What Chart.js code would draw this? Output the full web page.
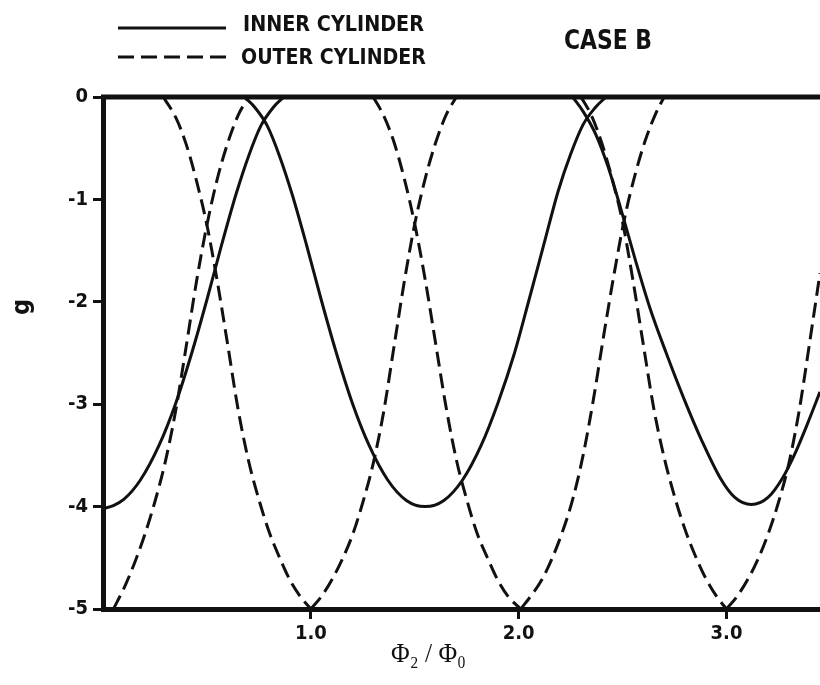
<!DOCTYPE html>
<html lang="en">
<head>
<meta charset="UTF-8">
<title>Case B</title>
<script src="https://cdn.jsdelivr.net/npm/chart.js"></script>
<style>
  html, body { margin: 0; padding: 0; background: #fff; }
  canvas { display: block; }
</style>
</head>
<body>
<canvas id="grafico" width="820" height="685"></canvas>
<script>
// eixos e textos
const xTicks = [1, 2, 3];
const xTickLabels = ['1.0', '2.0', '3.0'];
const yTicks = [0, -1, -2, -3, -4, -5];
const yTickLabels = ['0', '-1', '-2', '-3', '-4', '-5'];
const legendLabels = ['INNER CYLINDER', 'OUTER CYLINDER'];
const caseLabel = 'CASE B';
const xTitle = 'Φ₂ / Φ₀';
const yTitle = 'g';

// inner cylinder (linha cheia) - um ramo por mínimo
const innerAX = [0.00, 0.05, 0.10, 0.18, 0.27, 0.35, 0.43, 0.50, 0.57, 0.64, 0.70, 0.76, 0.82, 0.87];
const innerAY = [-4.02, -3.99, -3.93, -3.74, -3.40, -2.99, -2.48, -1.98, -1.45, -0.95, -0.58, -0.28, -0.10, 0];
const innerBX = [0.68, 0.73, 0.79, 0.85, 0.91, 0.98, 1.05, 1.12, 1.20, 1.28, 1.37, 1.46, 1.55,
                 1.64, 1.73, 1.82, 1.90, 1.98, 2.05, 2.12, 2.19, 2.25, 2.31, 2.37, 2.42];
const innerBY = [0, -0.10, -0.28, -0.58, -0.95, -1.45, -1.98, -2.48, -2.99, -3.40, -3.74, -3.94, -4.00,
                 -3.94, -3.74, -3.40, -2.99, -2.50, -1.98, -1.45, -0.92, -0.56, -0.27, -0.10, 0];
const innerCX = [2.26, 2.31, 2.37, 2.43, 2.49, 2.56, 2.63, 2.71, 2.80, 2.88, 2.97, 3.04, 3.12,
                 3.20, 3.27, 3.33, 3.39, 3.45];
const innerCY = [0, -0.14, -0.36, -0.68, -1.08, -1.58, -2.05, -2.50, -2.97, -3.35, -3.72, -3.91, -3.98,
                 -3.91, -3.72, -3.48, -3.19, -2.88];

// outer cylinder (tracejada) - cada lado do V separado
const outer0RX = [0.05, 0.10, 0.15, 0.20, 0.25, 0.30, 0.35, 0.40, 0.45, 0.50, 0.55, 0.60, 0.65, 0.70];
const outer0RY = [-5.0, -4.80, -4.56, -4.28, -3.95, -3.56, -3.06, -2.44, -1.80, -1.25, -0.80, -0.45, -0.18, 0];
const outer1LX = [0.29, 0.35, 0.40, 0.45, 0.50, 0.55, 0.60, 0.65, 0.70, 0.75, 0.80, 0.85, 0.90, 0.95, 1.00];
const outer1LY = [0, -0.20, -0.46, -0.82, -1.25, -1.80, -2.42, -3.05, -3.55, -3.93, -4.25, -4.50, -4.72, -4.88, -5.0];
const outer1RX = [1.00, 1.05, 1.10, 1.15, 1.20, 1.25, 1.30, 1.35, 1.40, 1.45, 1.50, 1.55, 1.60, 1.65, 1.70];
const outer1RY = [-5.0, -4.88, -4.72, -4.52, -4.28, -3.96, -3.58, -3.08, -2.44, -1.80, -1.24, -0.80, -0.45, -0.18, 0];
const outer2LX = [1.30, 1.35, 1.40, 1.45, 1.50, 1.55, 1.60, 1.65, 1.70, 1.75, 1.80, 1.85, 1.90, 1.95, 2.01];
const outer2LY = [0, -0.18, -0.44, -0.80, -1.24, -1.78, -2.40, -3.02, -3.54, -3.93, -4.26, -4.50, -4.72, -4.88, -5.0];
const outer2RX = [2.01, 2.06, 2.11, 2.16, 2.21, 2.26, 2.31, 2.36, 2.41, 2.46, 2.51, 2.56, 2.61, 2.66, 2.70];
const outer2RY = [-5.0, -4.87, -4.72, -4.51, -4.25, -3.93, -3.50, -2.95, -2.32, -1.72, -1.18, -0.76, -0.42, -0.16, 0];
const outer3LX = [2.30, 2.35, 2.40, 2.45, 2.50, 2.55, 2.60, 2.65, 2.70, 2.75, 2.80, 2.85, 2.90, 2.95, 3.00];
const outer3LY = [0, -0.18, -0.45, -0.80, -1.22, -1.79, -2.42, -3.04, -3.52, -3.90, -4.22, -4.48, -4.70, -4.87, -5.0];
const outer3RX = [3.00, 3.05, 3.10, 3.15, 3.20, 3.25, 3.30, 3.35, 3.40, 3.45];
const outer3RY = [-5.0, -4.88, -4.72, -4.52, -4.27, -3.96, -3.58, -3.06, -2.40, -1.72];

const fonteRotulo = "'Liberation Sans Narrow', 'DejaVu Sans Condensed', 'Liberation Sans', sans-serif";
const tracejado = [15, 7];

function pontos(xs, ys) {
    return xs.map((x, i) => ({ x: x, y: ys[i] }));
}

function ramo(xs, ys, dash) {
    return {
        data: pontos(xs, ys),
        borderColor: '#111',
        borderWidth: 3,
        borderDash: dash,
        pointRadius: 0,
        fill: false,
        tension: 0.4,
        cubicInterpolationMode: 'monotone'
    };
}

// texto esticado para ocupar a largura do original
function textoAjustado(ctx, texto, x, y, largura) {
    const w = ctx.measureText(texto).width;
    ctx.save();
    ctx.translate(x, y);
    ctx.scale(largura / w, 1);
    ctx.fillText(texto, 0, 0);
    ctx.restore();
}

const decoracao = {
    id: 'decoracao',
    afterDraw(chart) {
        const ctx = chart.ctx;
        const area = chart.chartArea;
        const y0 = chart.scales.y.getPixelForValue(0);
        ctx.save();
        ctx.strokeStyle = '#111';
        ctx.fillStyle = '#111';

        // linha de cima (g = 0)
        ctx.lineWidth = 5;
        ctx.beginPath();
        ctx.moveTo(area.left - 2, y0);
        ctx.lineTo(chart.width, y0);
        ctx.stroke();

        // legenda
        ctx.lineWidth = 3;
        ctx.beginPath();
        ctx.moveTo(118, 28);
        ctx.lineTo(226, 28);
        ctx.stroke();
        ctx.setLineDash([16, 7]);
        ctx.beginPath();
        ctx.moveTo(118, 57);
        ctx.lineTo(226, 57);
        ctx.stroke();
        ctx.setLineDash([]);

        ctx.font = 'bold 21px ' + fonteRotulo;
        ctx.textBaseline = 'alphabetic';
        ctx.textAlign = 'left';
        textoAjustado(ctx, legendLabels[0], 243, 31, 181);
        textoAjustado(ctx, legendLabels[1], 241, 64, 185);

        ctx.font = 'bold 26px ' + fonteRotulo;
        textoAjustado(ctx, caseLabel, 564, 49, 88);

        // titulo do eixo y
        ctx.save();
        ctx.translate(22, 307);
        ctx.rotate(-Math.PI / 2);
        ctx.font = 'bold 25px ' + fonteRotulo;
        ctx.textAlign = 'center';
        ctx.textBaseline = 'middle';
        ctx.fillText(yTitle, 0, 0);
        ctx.restore();

        // titulo do eixo x
        ctx.font = "28px 'Liberation Serif', 'DejaVu Serif', serif";
        ctx.textAlign = 'left';
        textoAjustado(ctx, xTitle, 391, 662, 75);

        ctx.restore();
    }
};

const grafico = new Chart(document.getElementById('grafico'), {
    type: 'line',
    data: {
        datasets: [
            ramo(innerAX, innerAY, []),
            ramo(innerBX, innerBY, []),
            ramo(innerCX, innerCY, []),
            ramo(outer0RX, outer0RY, tracejado),
            ramo(outer1LX, outer1LY, tracejado),
            ramo(outer1RX, outer1RY, tracejado),
            ramo(outer2LX, outer2LY, tracejado),
            ramo(outer2RX, outer2RY, tracejado),
            ramo(outer3LX, outer3LY, tracejado),
            ramo(outer3RX, outer3RY, tracejado)
        ]
    },
    options: {
        responsive: false,
        animation: false,
        devicePixelRatio: 1,
        layout: { padding: { top: 97, right: 0, left: 0, bottom: 0 } },
        plugins: {
            legend: { display: false },
            tooltip: { enabled: false }
        },
        scales: {
            x: {
                type: 'linear',
                min: 0,
                max: 3.45,
                afterBuildTicks: (scale) => {
                    scale.ticks = xTicks.map(v => ({ value: v }));
                },
                afterFit: (scale) => { scale.height = 76; },
                grid: {
                    drawOnChartArea: false,
                    drawTicks: true,
                    tickLength: 10,
                    lineWidth: 3,
                    color: '#111'
                },
                border: { display: true, width: 5, color: '#111' },
                ticks: {
                    color: '#111',
                    padding: 3,
                    maxRotation: 0,
                    font: { family: fonteRotulo, size: 20, weight: 'bold' },
                    callback: (v) => xTickLabels[xTicks.indexOf(v)]
                }
            },
            y: {
                min: -5,
                max: 0,
                afterBuildTicks: (scale) => {
                    scale.ticks = yTicks.map(v => ({ value: v }));
                },
                afterFit: (scale) => { scale.width = 103; },
                grid: {
                    drawOnChartArea: false,
                    drawTicks: true,
                    tickLength: 10,
                    lineWidth: 3,
                    color: '#111'
                },
                border: { display: true, width: 5, color: '#111' },
                ticks: {
                    color: '#111',
                    padding: 5,
                    font: { family: fonteRotulo, size: 20, weight: 'bold' },
                    callback: (v) => yTickLabels[yTicks.indexOf(v)]
                }
            }
        }
    },
    plugins: [decoracao]
});
</script>
</body>
</html>
